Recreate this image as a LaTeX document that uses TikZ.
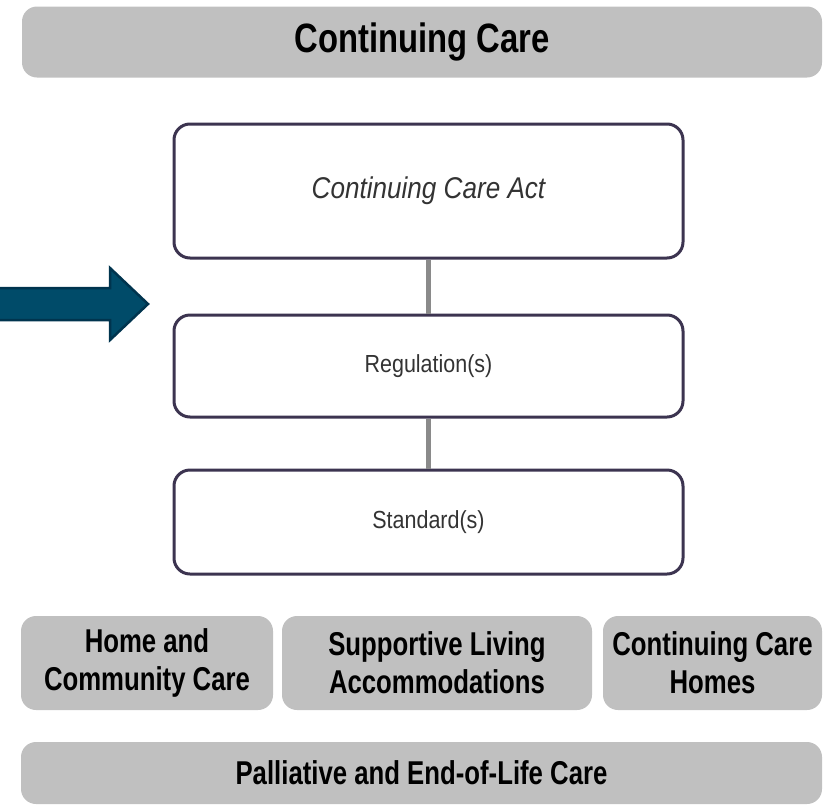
\documentclass[tikz,border=0pt]{standalone}
\usepackage{fontspec}
\setmainfont{Liberation Sans}
\newfontfamily\condfont[FakeStretch=0.78]{Liberation Sans}
\newfontfamily\titlefont[FakeStretch=0.80]{Liberation Sans}
\newfontfamily\narrfont[FakeStretch=0.87]{Liberation Sans}
\definecolor{bargray}{RGB}{192,192,192}
\definecolor{boxline}{RGB}{60,52,80}
\definecolor{linkgray}{RGB}{138,138,138}
\definecolor{inktext}{RGB}{51,51,51}
\definecolor{arrowfill}{RGB}{0,75,105}
\definecolor{arrowedge}{RGB}{0,52,78}
\begin{document}
\begin{tikzpicture}[x=1pt,y=-1pt,
  graybar/.style={fill=bargray, draw=none, rounded corners=15pt, inner sep=0pt,
    font=\condfont\bfseries\fontsize{33}{38}\selectfont, align=center, text=black},
  lawbox/.style={draw=boxline, line width=3pt, fill=white, rounded corners=16pt, inner sep=0pt,
    text=inktext},
  link/.style={draw=linkgray, line width=5pt}
]
\useasboundingbox (0,0) rectangle (838,809);
% top bar
\node[graybar, minimum width=800pt, minimum height=71pt,
  font=\titlefont\bfseries\fontsize{41}{46}\selectfont]
  (top) at (422,42) {Continuing Care};
% law boxes
\node[lawbox, minimum width=509pt, minimum height=134pt,
  font=\narrfont\itshape\fontsize{30}{34}\selectfont] (act) at (428.5,191) {Continuing Care Act};
\node[lawbox, minimum width=509pt, minimum height=102pt,
  font=\narrfont\fontsize{24.7}{28}\selectfont] (reg) at (428.5,366) {Regulation(s)};
\node[lawbox, minimum width=509pt, minimum height=104pt,
  font=\narrfont\fontsize{24.7}{28}\selectfont] (std) at (428.5,522) {Standard(s)};
% connectors
\draw[link] (act.south) -- (reg.north);
\draw[link] (reg.south) -- (std.north);
% arrow
\coordinate (arrowtip) at (148,304);
\draw[fill=arrowfill, draw=arrowedge, line width=2.5pt, line join=miter]
  (-5,288) -- (110,288) -- (110,268) -- (arrowtip) -- (110,340) -- (110,320) -- (-5,320) -- cycle;
% bottom row
\node[graybar, minimum width=252pt, minimum height=94pt] (home) at (147,663) {Home and\\Community Care};
\node[graybar, minimum width=310pt, minimum height=94pt] (supp) at (437,663) {Supportive Living\\Accommodations};
\node[graybar, minimum width=219pt, minimum height=94pt] (homes) at (712.5,663) {Continuing Care\\Homes};
% bottom bar
\node[graybar, minimum width=801pt, minimum height=62pt] (pall) at (421.5,773) {Palliative and End-of-Life Care};
\end{tikzpicture}
\end{document}
